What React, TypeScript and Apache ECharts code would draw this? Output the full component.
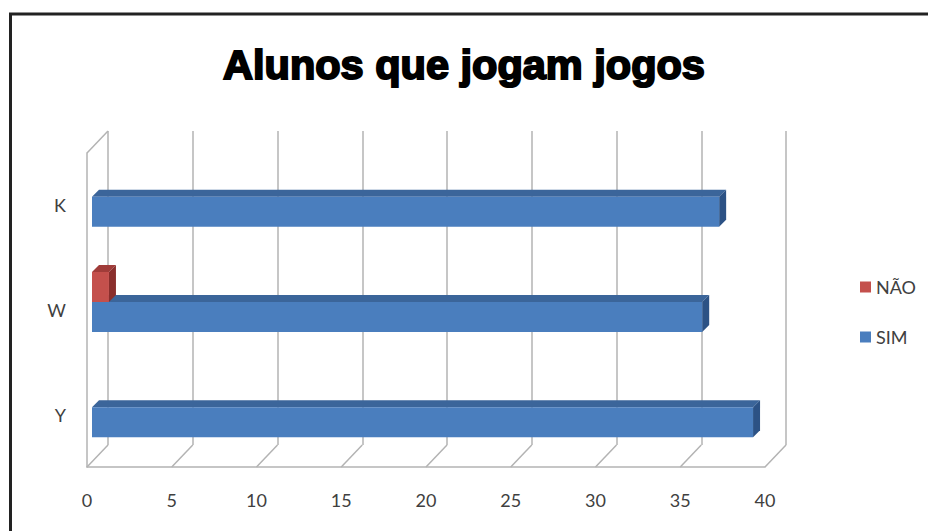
import React, { useEffect, useRef } from 'react';
import * as echarts from 'echarts';

// ---- data ----
const categories = ['Y', 'W', 'K']; // bottom to top
const simValues = [39, 36, 37];
const naoValues = [0, 1, 0];
const xTicks = [0, 5, 10, 15, 20, 25, 30, 35, 40];
const legendOrder = ['NÃO', 'SIM'];
const titleText = 'Alunos que jogam jogos';

// ---- styles ----
const BLUE = { front: '#4A7EBE', top: '#3B659A', side: '#2C5285' };
const RED = { front: '#C4504C', top: '#A03C39', side: '#8A2E2C' };
const D = 7; // bar depth offset
const BAR_RATIO = 0.285;
const WALL_DX = 21;
const WALL_DY = 22;
const LABEL_FONT = 'Lato, "Open Sans", sans-serif';
const GRID_COLOR = '#b3b3b3';

function bar3D(colors: any, below: boolean) {
  return (params: any, api: any) => {
    const v = api.value(0);
    if (!v) return null;
    const idx = api.value(1);
    const p0 = api.coord([0, idx]);
    const p1 = api.coord([v, idx]);
    const band = api.size([0, 1])[1];
    const th = band * BAR_RATIO;
    const y0 = below ? p0[1] : p0[1] - th;
    const y1 = y0 + th;
    const x0 = p0[0];
    const x1 = p1[0];
    return {
      type: 'group',
      children: [
        {
          type: 'polygon',
          shape: { points: [[x0, y0], [x1, y0], [x1 + D, y0 - D], [x0 + D, y0 - D]] },
          style: { fill: colors.top },
        },
        {
          type: 'polygon',
          shape: { points: [[x1, y0], [x1 + D, y0 - D], [x1 + D, y1 - D], [x1, y1]] },
          style: { fill: colors.side },
        },
        {
          type: 'rect',
          shape: { x: x0, y: y0, width: x1 - x0, height: th },
          style: { fill: colors.front },
        },
      ],
    };
  };
}

export default function App() {
  const ref = useRef<HTMLDivElement>(null);
  useEffect(() => {
    if (!ref.current) return;
    const chart = echarts.init(ref.current, null, { renderer: 'svg' });
    const option: any = {
      animation: false,
      backgroundColor: '#ffffff',
      title: {
        text: titleText,
        left: 'center',
        top: 43,
        padding: 0,
        textStyle: {
          fontSize: 41.5,
          fontWeight: 'bold',
          fontFamily: '"Liberation Sans", Arial, sans-serif',
          color: '#000',
          textBorderColor: '#000',
          textBorderWidth: 2,
        },
      },
      legend: {
        data: legendOrder.map((n) => ({ name: n, icon: 'rect' })),
        orient: 'vertical',
        left: 860,
        top: 277,
        itemWidth: 11,
        itemHeight: 11,
        itemGap: 30,
        padding: 0,
        textStyle: { fontSize: 18, color: '#404040', fontFamily: LABEL_FONT, lineHeight: 20 },
      },
      grid: [
        { left: 108, top: 131, width: 678, height: 314 }, // back wall
        { left: 87, top: 153, width: 678, height: 314 }, // front / floor edge
        { left: 92, top: 144, width: 678, height: 316 }, // bars
      ],
      xAxis: [
        {
          gridIndex: 0, type: 'value', min: 0, max: 40, interval: 5,
          axisLine: { show: false }, axisTick: { show: false }, axisLabel: { show: false },
          splitLine: { show: true, lineStyle: { color: GRID_COLOR, width: 1.5 } },
        },
        {
          gridIndex: 1, type: 'value', min: 0, max: 40, interval: 5,
          axisLine: { show: true, onZero: false, lineStyle: { color: GRID_COLOR, width: 1.5 } },
          axisTick: { show: false },
          splitLine: { show: false },
          axisLabel: { margin: 24, fontSize: 18, color: '#404040', fontFamily: LABEL_FONT },
        },
        { gridIndex: 2, type: 'value', min: 0, max: 40, show: false, splitLine: { show: false } },
      ],
      yAxis: [
        { gridIndex: 0, type: 'category', data: categories, show: false },
        {
          gridIndex: 1, type: 'category', data: categories,
          axisLine: { show: true, lineStyle: { color: GRID_COLOR, width: 1.5 } },
          axisTick: { show: false },
          splitLine: { show: false },
          axisLabel: { margin: 21, fontSize: 18, color: '#404040', fontFamily: LABEL_FONT },
        },
        { gridIndex: 2, type: 'category', data: categories, show: false },
      ],
      series: [
        {
          type: 'custom',
          name: 'floor',
          silent: true,
          xAxisIndex: 1,
          yAxisIndex: 1,
          z: 1,
          encode: { x: 0, y: 1 },
          data: xTicks.map((v) => [v, 0]),
          renderItem: (params: any, api: any) => {
            const cs = params.coordSys;
            const v = api.value(0);
            const x = api.coord([v, 0])[0];
            const yb = cs.y + cs.height;
            const children: any[] = [
              {
                type: 'line',
                shape: { x1: x, y1: yb, x2: x + WALL_DX, y2: yb - WALL_DY },
                style: { stroke: GRID_COLOR, lineWidth: 1.5 },
              },
            ];
            if (v === xTicks[0]) {
              children.push({
                type: 'line',
                shape: { x1: cs.x, y1: cs.y, x2: cs.x + WALL_DX, y2: cs.y - WALL_DY },
                style: { stroke: GRID_COLOR, lineWidth: 1.5 },
              });
            }
            return { type: 'group', children };
          },
        },
        {
          type: 'custom',
          name: 'SIM',
          xAxisIndex: 2,
          yAxisIndex: 2,
          z: 3,
          encode: { x: 0, y: 1 },
          itemStyle: { color: BLUE.front },
          data: simValues.map((v, i) => [v, i]),
          renderItem: bar3D(BLUE, true),
        },
        {
          type: 'custom',
          name: 'NÃO',
          xAxisIndex: 2,
          yAxisIndex: 2,
          z: 4,
          encode: { x: 0, y: 1 },
          itemStyle: { color: RED.front },
          data: naoValues.map((v, i) => [v, i]),
          renderItem: bar3D(RED, false),
        },
      ],
      graphic: [
        {
          type: 'rect',
          shape: { x: 10.5, y: 14, width: 1000, height: 1000 },
          style: { fill: 'none', stroke: '#222', lineWidth: 3 },
          z: 100,
        },
      ],
    };
    chart.setOption(option);
    return () => chart.dispose();
  }, []);
  return (
    <div
      ref={ref}
      style={{ position: 'absolute', left: 0, top: 0, width: 928, height: 531 }}
    />
  );
}
